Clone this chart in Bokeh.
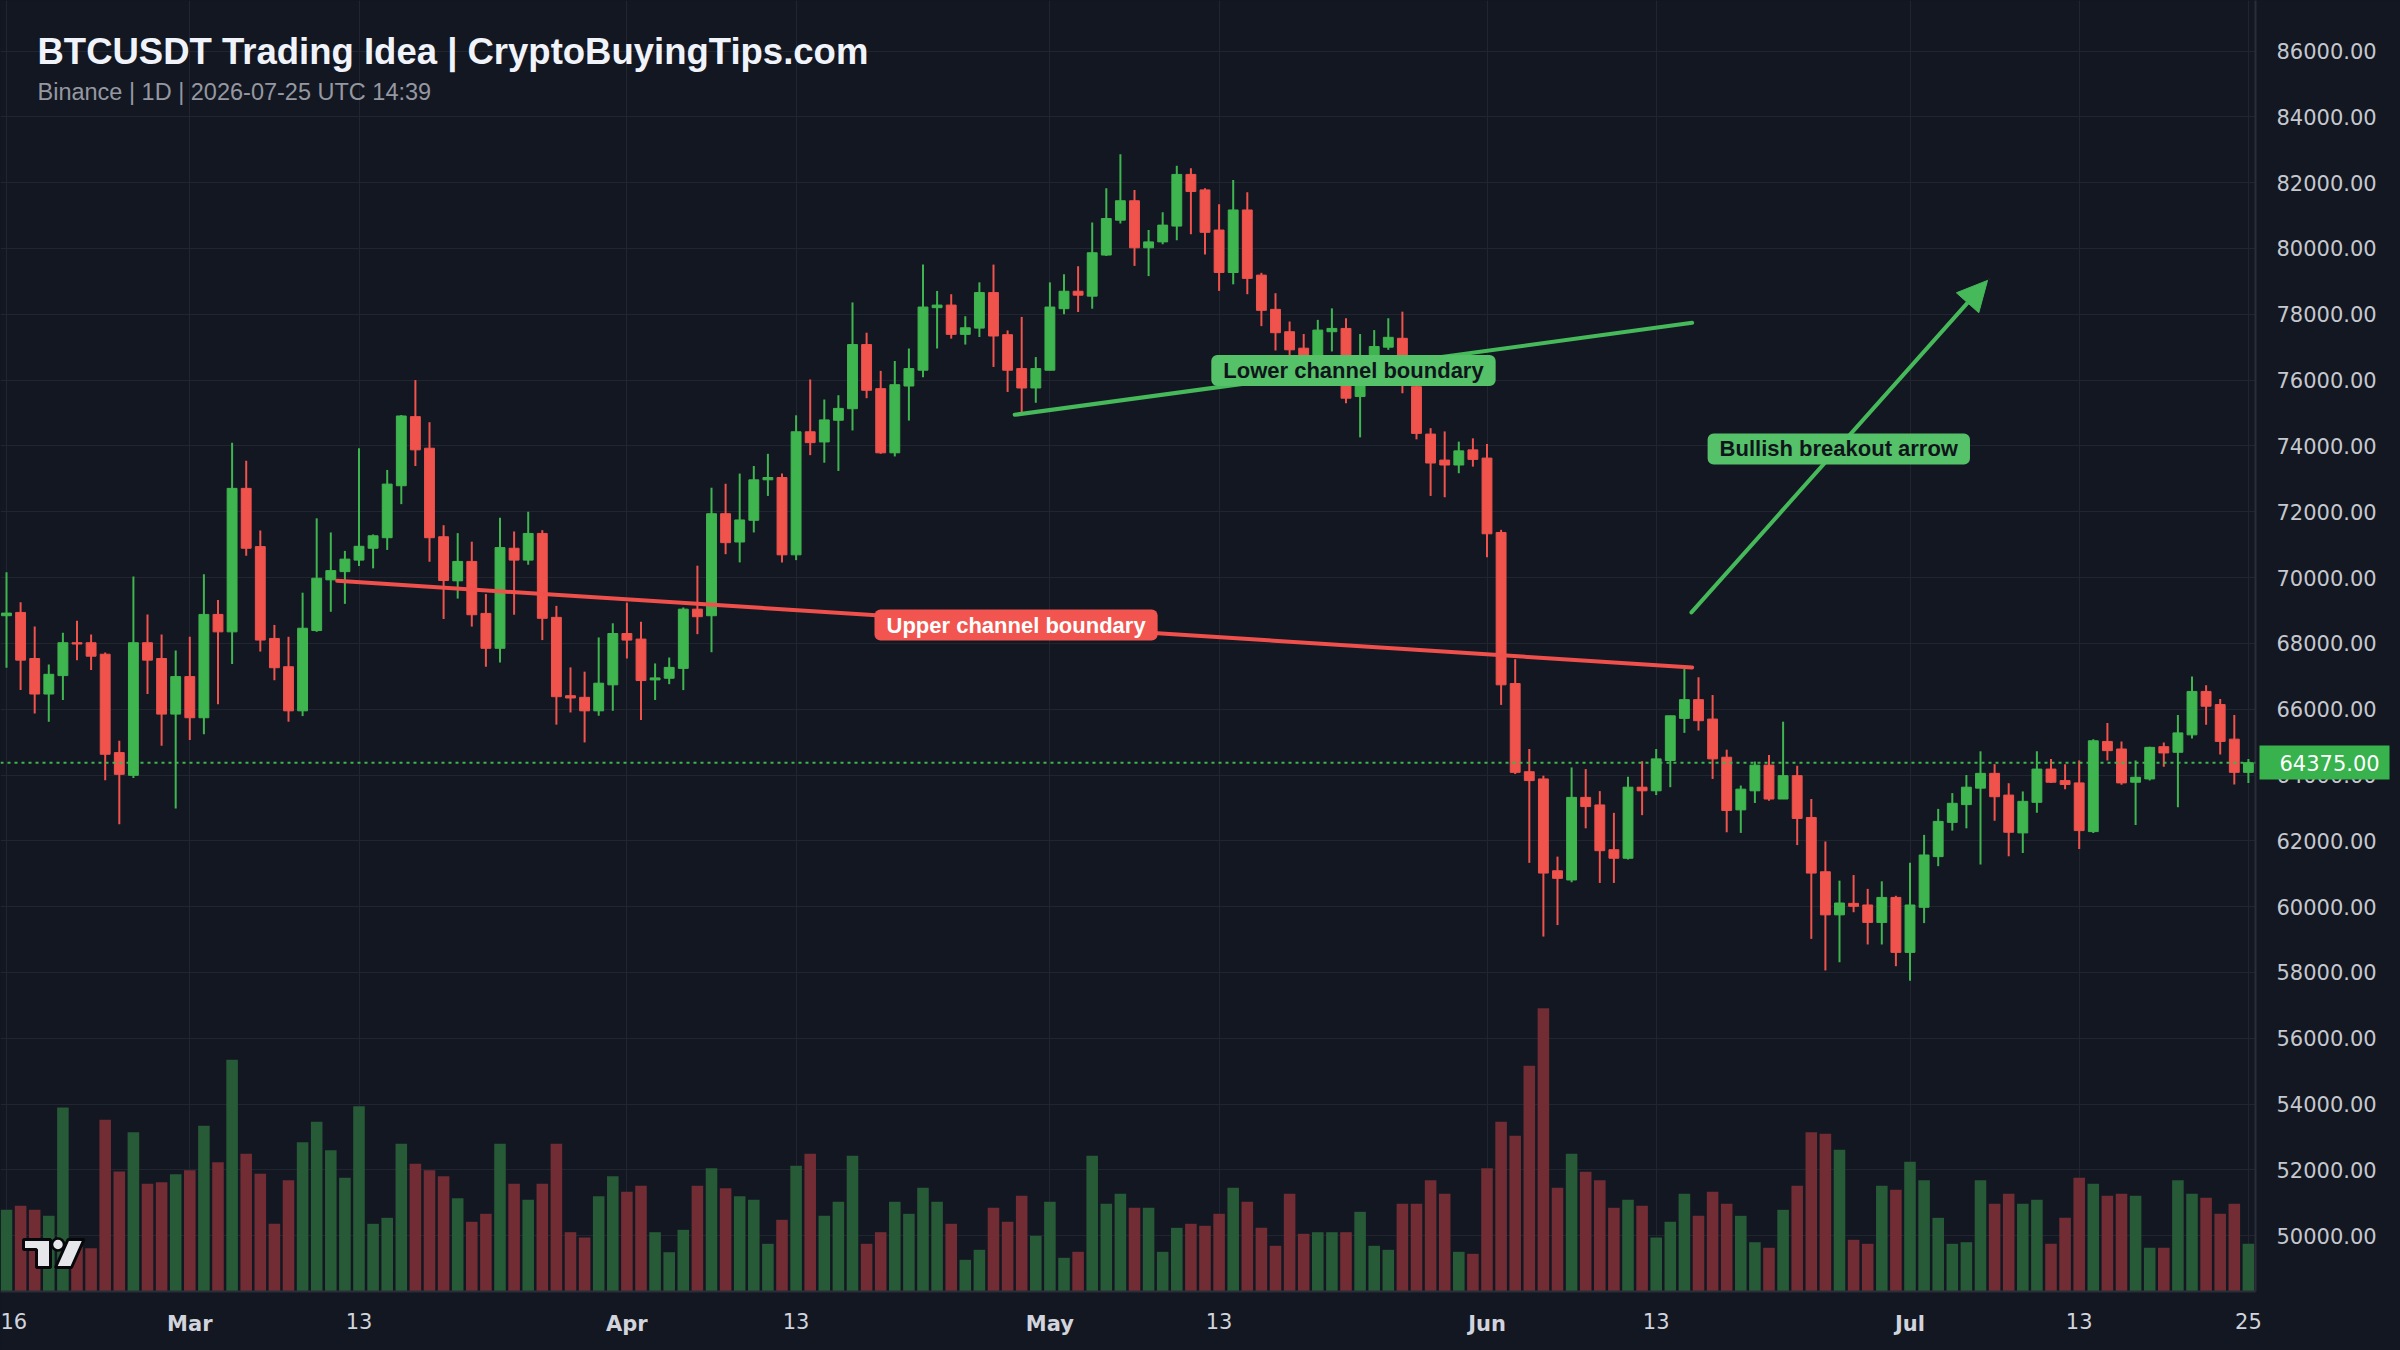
from bokeh.plotting import figure
from bokeh.models import (Range1d, FixedTicker, NumeralTickFormatter, Span, Label,
                          Arrow, NormalHead, ColumnDataSource, LinearAxis)
from bokeh.embed import file_html
from bokeh.resources import INLINE

# ---------------- data (daily candles, Feb 16 .. Jul 25) ----------------
day_index = list(range(160))

opens = [68840, 68940, 67540, 66460, 67020, 68020, 68020, 67670, 64680, 63990,
         68020, 67540, 65850, 66990, 65740, 68880, 68350, 72710, 70940, 68150,
         67290, 65950, 68390, 69930, 70180, 70530, 70890, 71210, 72790, 74890,
         73930, 71240, 69900, 70490, 68910, 67850, 70890, 70530, 71340, 68790,
         66410, 66360, 65950, 66740, 68300, 68130, 66890, 66940, 67240, 69040,
         68840, 71940, 71080, 71740, 72970, 73040, 70690, 74430, 74120, 74780,
         75130, 77080, 75740, 73790, 75820, 76300, 78200, 78280, 77390, 77580,
         78660, 77380, 76350, 75760, 76300, 78170, 78700, 78550, 79800, 80860,
         81450, 80020, 80200, 80680, 82250, 81780, 80560, 79270, 81170, 79190,
         78150, 77470, 76970, 76600, 77470, 77570, 75500, 76700, 77000, 77270,
         75800, 74360, 73570, 73420, 73880, 73630, 71370, 66780, 64100, 63880,
         61090, 60810, 63320, 63090, 61730, 61470, 63630, 63520, 64440, 65720,
         66290, 65700, 64540, 62940, 63520, 64300, 63270, 63980, 62710, 61060,
         59750, 60100, 60050, 59520, 60280, 58610, 59980, 61520, 62560, 63100,
         63600, 64050, 63390, 62240, 63170, 64180, 63830, 63760, 62280, 65020,
         64790, 63780, 63880, 64860, 64690, 65220, 66540, 66140, 65090, 64080]

highs = [70160, 69250, 68510, 67360, 68320, 68690, 68270, 67720, 65040, 70030,
         68880, 68270, 67780, 68200, 70100, 69320, 74100, 73550, 71430, 68560,
         68200, 69540, 71800, 71370, 70810, 73930, 71310, 73270, 74940, 76000,
         74720, 71590, 71350, 71090, 69500, 71820, 71400, 72000, 71440, 69140,
         67270, 67140, 68180, 68610, 69240, 68660, 67390, 67570, 69090, 70360,
         72730, 72850, 73160, 73390, 73760, 73160, 74930, 76020, 75410, 75540,
         78360, 77440, 76280, 76580, 76960, 79510, 78710, 78610, 77940, 78970,
         79510, 77510, 77920, 76700, 78970, 79220, 79460, 80790, 81830, 82860,
         81780, 80560, 81100, 82510, 82440, 81830, 81340, 82080, 81710, 79260,
         78640, 77780, 77400, 77830, 78180, 77880, 77400, 77520, 77880, 78080,
         76100, 74540, 74440, 74130, 74230, 74060, 71450, 67520, 64790, 63980,
         61520, 64230, 64180, 63510, 62850, 63950, 64420, 64790, 65800, 67220,
         66970, 66430, 64770, 63680, 64410, 64610, 65620, 64280, 63270, 61980,
         60790, 60960, 60540, 60770, 60330, 61330, 62180, 62970, 63450, 64000,
         64720, 64330, 63750, 63500, 64720, 64490, 64330, 64440, 65090, 65580,
         65020, 64440, 64860, 64990, 65820, 66990, 66730, 66310, 65820, 64490]

lows = [67260, 66580, 65870, 65620, 66280, 67490, 67190, 63840, 62500, 63910,
        66460, 64890, 62980, 65060, 65240, 66150, 67370, 70660, 67750, 66880,
        65620, 65790, 68350, 68960, 69200, 70350, 70280, 70840, 72230, 73390,
        70480, 68740, 69360, 68510, 67290, 67420, 68870, 70390, 68100, 65530,
        65900, 64990, 65800, 65950, 67540, 65670, 66280, 66760, 66580, 68280,
        67730, 70710, 70460, 71370, 72480, 70460, 70530, 73720, 73490, 73240,
        74470, 75450, 73760, 73680, 74770, 76090, 76960, 77260, 77080, 77310,
        76400, 75640, 75030, 75310, 76300, 78000, 78070, 78170, 79770, 80760,
        79470, 79160, 80130, 80250, 80430, 79820, 78710, 78910, 78610, 77640,
        76900, 76700, 76100, 76300, 76870, 75300, 74260, 76500, 76920, 75600,
        74200, 72480, 72440, 73170, 73370, 70620, 66130, 64030, 61330, 59090,
        59440, 60740, 62380, 60720, 60720, 61430, 62780, 63390, 63630, 65280,
        65350, 63880, 62260, 62240, 63150, 63220, 63270, 61870, 59020, 58060,
        58310, 59830, 58850, 58850, 58190, 57750, 59500, 61230, 62310, 62380,
        61280, 62610, 61530, 61630, 62850, 63760, 63570, 61750, 62240, 64440,
        63700, 62480, 63830, 64250, 63020, 65110, 65530, 64620, 63710, 63760]

closes = [68920, 67490, 66460, 67060, 68020, 67980, 67610, 64630, 64020, 68020,
          67490, 65850, 66990, 65740, 68880, 68350, 72710, 70890, 68100, 67260,
          65950, 68460, 69980, 70210, 70560, 70950, 71270, 72840, 74910, 73880,
          71210, 69910, 70490, 68870, 67850, 70910, 70530, 71340, 68760, 66380,
          66340, 65950, 66790, 68300, 68100, 66870, 66950, 67270, 69040, 68810,
          71940, 71060, 71750, 72970, 73040, 70690, 74430, 74100, 74790, 75140,
          77080, 75690, 73790, 75860, 76350, 78220, 78280, 77390, 77590, 78660,
          77340, 76300, 75760, 76350, 78220, 78700, 78580, 79870, 80910, 81450,
          80020, 80200, 80710, 82250, 81730, 80490, 79270, 81170, 79090, 78120,
          77440, 76920, 76400, 77520, 77570, 75450, 76200, 77020, 77300, 75900,
          74380, 73480, 73420, 73850, 73590, 71330, 66740, 64080, 63830, 61020,
          60860, 63320, 63040, 61700, 61470, 63630, 63520, 64490, 65800, 66290,
          65650, 64490, 62920, 63570, 64300, 63270, 63980, 62680, 61020, 59750,
          60110, 60010, 59520, 60280, 58610, 60050, 61570, 62590, 63140, 63630,
          64050, 63340, 62260, 63200, 64180, 63780, 63710, 62310, 65040, 64740,
          63760, 63930, 64840, 64670, 65280, 66540, 66090, 65020, 64080, 64375]

volumes = [8170, 8570, 8170, 7570, 18400, 4500, 4330, 17170, 12000, 15930,
           10770, 10930, 11730, 12130, 16570, 12930, 23170, 13770, 11770, 6770,
           11130, 14930, 16970, 14130, 11370, 18530, 6770, 7370, 14770, 12770,
           12130, 11530, 9330, 6970, 7770, 14770, 10770, 9170, 10770, 14770,
           5930, 5400, 9530, 11530, 9970, 10570, 5930, 3930, 6170, 10570,
           12330, 10330, 9530, 9170, 4770, 7170, 12570, 13770, 7570, 8970,
           13570, 4770, 5930, 8970, 7770, 10370, 8970, 6770, 3170, 4170,
           8370, 6970, 9570, 5570, 8970, 3370, 3970, 13570, 8770, 9770,
           8370, 8370, 3970, 6370, 6770, 6570, 7770, 10370, 8970, 6370,
           4570, 9770, 5770, 5930, 5930, 5930, 7970, 4570, 4170, 8770,
           8770, 11130, 9770, 3970, 3770, 12330, 16970, 15570, 22570, 28330,
           10370, 13770, 11970, 11130, 8370, 9170, 8570, 5400, 6970, 9770,
           7570, 9970, 8770, 7570, 4930, 4370, 8170, 10570, 15930, 15770,
           14170, 5170, 4770, 10570, 10170, 12970, 11130, 7370, 4770, 4930,
           11130, 8770, 9770, 8770, 9170, 4770, 7370, 11370, 10770, 9570,
           9770, 9570, 4370, 4370, 11130, 9770, 9370, 7770, 8770, 4770]

tick_days = [0, 13, 25, 44, 56, 74, 86, 105, 117, 135, 147, 159]
tick_labels = ["16", "Mar", "13", "Apr", "13", "May", "13", "Jun", "13", "Jul", "13", "25"]
price_ticks = [50000, 52000, 54000, 56000, 58000, 60000, 62000, 64000, 66000, 68000,
               70000, 72000, 74000, 76000, 78000, 80000, 82000, 84000, 86000]
last_price = 64375.0

title_text = "BTCUSDT Trading Idea | CryptoBuyingTips.com"
subtitle_text = "Binance | 1D | 2026-07-25 UTC 14:39"

upper_line_x = [23.45, 119.55]
upper_line_y = [69900, 67270]
lower_line_x = [71.5, 119.55]
lower_line_y = [74945, 77740]
arrow_x = [119.5, 140.5]
arrow_y = [68940, 79030]

# ---------------- styling / layout ----------------
BG = "#131722"
GRID = "#21252f"
AXIS_LINE = "#2a2e39"
UP = "#3fb54f"
DN = "#f0524c"
UP_VOL = "#275a36"
DN_VOL = "#712d33"
LINE_G = "#46b95a"
LINE_R = "#f0504b"
BOX_G = "#55c168"
BOX_R = "#f2544f"
TAG_G = "#37b24d"
AX_FONT = "DejaVu Sans"
AX_SIZE = "21px"

W, H = 2400, 1350
FRAME_W, FRAME_H = 2255, 1291
PX_DAY = 14.1
X0 = -6.0 / PX_DAY
X1 = X0 + FRAME_W / PX_DAY
Y_TOP = 87535.0
Y_BOT = 48305.0
PX_PRICE = (Y_TOP - Y_BOT) / FRAME_H


def xd(px):
    return X0 + px / PX_DAY


def yd(py):
    return Y_TOP - py * PX_PRICE


p = figure(width=W, height=H, output_backend="svg", toolbar_location=None,
           x_range=Range1d(X0, X1), y_range=Range1d(Y_BOT, Y_TOP),
           y_axis_location="right",
           min_border_left=0, min_border_top=0,
           min_border_right=W - FRAME_W, min_border_bottom=H - FRAME_H,
           background_fill_color=BG, border_fill_color=BG,
           outline_line_color=None)
p.extra_y_ranges = {"vol": Range1d(0, FRAME_H * 100)}

month_set = {"Jan", "Feb", "Mar", "Apr", "May", "Jun", "Jul", "Aug", "Sep", "Oct", "Nov", "Dec"}
month_days = [d for d, l in zip(tick_days, tick_labels) if l in month_set]

# grid
p.xgrid.ticker = FixedTicker(ticks=tick_days)
p.ygrid.ticker = FixedTicker(ticks=price_ticks)
p.xgrid.grid_line_color = GRID
p.ygrid.grid_line_color = GRID

# ---- time axis: day numbers (regular) ----
xa = p.xaxis[0]
xa.ticker = FixedTicker(ticks=tick_days)
xa.major_label_overrides = {d: ("" if lbl in month_set else lbl)
                            for d, lbl in zip(tick_days, tick_labels)}
xa.major_tick_out = 0
xa.major_tick_in = 0
xa.major_tick_line_color = None
xa.minor_tick_line_color = None
xa.axis_line_color = AXIS_LINE
xa.axis_line_width = 2
xa.major_label_text_color = "#d1d4dc"
xa.major_label_text_font = AX_FONT
xa.major_label_text_font_size = AX_SIZE
xa.major_label_standoff = 21

# ---- time axis: month names (bold), overlaid on the same row ----
xm = LinearAxis(ticker=FixedTicker(ticks=month_days),
                major_label_overrides={d: l for d, l in zip(tick_days, tick_labels) if l in month_set},
                major_tick_out=0, major_tick_in=0, major_tick_line_color=None,
                minor_tick_line_color=None, axis_line_color=None,
                major_label_text_color="#d1d4dc", major_label_text_font=AX_FONT,
                major_label_text_font_size=AX_SIZE, major_label_text_font_style="bold",
                major_label_standoff=-20)
p.add_layout(xm, "below")

# ---- price axis ----
ya = p.yaxis[0]
ya.ticker = FixedTicker(ticks=price_ticks)
ya.formatter = NumeralTickFormatter(format="0.00")
ya.major_tick_out = 0
ya.major_tick_in = 0
ya.major_tick_line_color = None
ya.minor_tick_line_color = None
ya.axis_line_color = AXIS_LINE
ya.axis_line_width = 2
ya.major_label_text_color = "#c5c8cf"
ya.major_label_text_font = AX_FONT
ya.major_label_text_font_size = AX_SIZE
ya.major_label_standoff = 21

# ---- last price tag (a second price axis with one thick tick) ----
tag = LinearAxis(ticker=FixedTicker(ticks=[last_price]),
                 formatter=NumeralTickFormatter(format="0.00"),
                 axis_line_color=None, minor_tick_line_color=None,
                 major_tick_in=120, major_tick_out=10,
                 major_tick_line_color=TAG_G, major_tick_line_width=34,
                 major_label_standoff=-110,
                 major_label_text_color="#ffffff", major_label_text_font=AX_FONT,
                 major_label_text_font_size=AX_SIZE)
p.add_layout(tag, "right")

# volume
vol_colors = [UP_VOL if c >= o else DN_VOL for o, c in zip(opens, closes)]
vsrc = ColumnDataSource(dict(x=day_index, v=volumes, color=vol_colors))
p.vbar(x="x", top="v", bottom=0, width=0.82, source=vsrc, y_range_name="vol",
       fill_color="color", line_color=None)

# candles
colors = [UP if c >= o else DN for o, c in zip(opens, closes)]
csrc = ColumnDataSource(dict(x=day_index, h=highs, l=lows,
                             top=[max(o, c) for o, c in zip(opens, closes)],
                             bottom=[min(o, c) for o, c in zip(opens, closes)],
                             color=colors))
p.segment(x0="x", y0="l", x1="x", y1="h", source=csrc, line_color="color", line_width=2)
p.vbar(x="x", top="top", bottom="bottom", width=0.7, source=csrc,
       fill_color="color", line_color="color", line_width=1)

# last price line
p.add_layout(Span(location=last_price, dimension="width", line_color=UP,
                  line_dash="3 4", line_width=2))

# drawings
p.line(upper_line_x, upper_line_y, line_color=LINE_R, line_width=4, line_cap="round")
p.line(lower_line_x, lower_line_y, line_color=LINE_G, line_width=4, line_cap="round")
p.add_layout(Arrow(end=NormalHead(size=30, fill_color=LINE_G, line_color=LINE_G),
                   x_start=arrow_x[0], y_start=arrow_y[0],
                   x_end=arrow_x[1], y_end=arrow_y[1],
                   line_color=LINE_G, line_width=4, line_cap="round"))

pad = dict(left=12, right=12, top=3, bottom=3)
p.add_layout(Label(x=71.6, y=68555, text="Upper channel boundary",
                   text_align="center", text_baseline="middle",
                   text_font="Liberation Sans", text_font_style="bold",
                   text_font_size="22px", text_color="#ffffff",
                   background_fill_color=BOX_R, background_fill_alpha=1.0,
                   padding=pad, border_radius=6))
p.add_layout(Label(x=95.53, y=76292, text="Lower channel boundary",
                   text_align="center", text_baseline="middle",
                   text_font="Liberation Sans", text_font_style="bold",
                   text_font_size="22px", text_color="#10151c",
                   background_fill_color=BOX_G, background_fill_alpha=1.0,
                   padding=pad, border_radius=6))
p.add_layout(Label(x=129.95, y=73909, text="Bullish breakout arrow",
                   text_align="center", text_baseline="middle",
                   text_font="Liberation Sans", text_font_style="bold",
                   text_font_size="22px", text_color="#10151c",
                   background_fill_color=BOX_G, background_fill_alpha=1.0,
                   padding=pad, border_radius=6))

# title / subtitle
p.add_layout(Label(x=xd(37), y=yd(51), text=title_text, text_baseline="alphabetic",
                   text_font="Liberation Sans", text_font_style="bold",
                   text_font_size="36.5px", text_color="#f0f3fa"))
p.add_layout(Label(x=xd(37), y=yd(91), text=subtitle_text, text_baseline="alphabetic",
                   text_font="Liberation Sans", text_font_size="23.5px",
                   text_color="#9598a1"))

# TradingView-style watermark logo
logo_t = ([xd(v) for v in [23, 50, 50, 36, 36, 23]],
          [yd(v) for v in [1239, 1239, 1267, 1267, 1249, 1249]])
logo_s = ([xd(v) for v in [67.5, 83.5, 71, 55]],
          [yd(v) for v in [1239, 1239, 1267, 1267]])
p.patches([logo_t[0], logo_s[0]], [logo_t[1], logo_s[1]],
          fill_color="#e6e7eb", line_color="#07080c", line_width=3)
p.scatter([xd(57.5)], [yd(1244)], size=12, marker="circle",
          fill_color="#e6e7eb", line_color="#07080c", line_width=2.5)

html = file_html(p, INLINE, title="BTCUSDT")
html = html.replace("<body>", '<body style="margin:0;background:#131722;">')
open("out.html", "w").write(html)
